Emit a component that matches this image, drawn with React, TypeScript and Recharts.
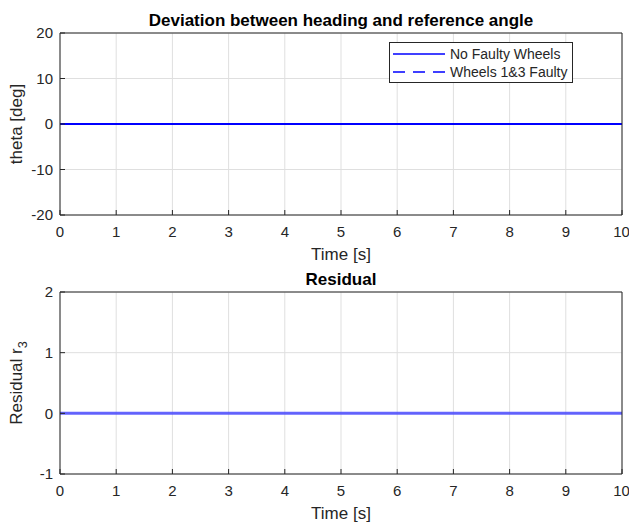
import React from 'react';
import { LineChart, Line, XAxis, YAxis, CartesianGrid, Legend } from 'recharts';

// Simulation samples (time in seconds)
const time = [0, 1, 2, 3, 4, 5, 6, 7, 8, 9, 10];
const thetaNoFault = [0, 0, 0, 0, 0, 0, 0, 0, 0, 0, 0];
const thetaWheels13Faulty = [0, 0, 0, 0, 0, 0, 0, 0, 0, 0, 0];
const residualR3 = [0, 0, 0, 0, 0, 0, 0, 0, 0, 0, 0];

// Axis ticks
const timeTicks = [0, 1, 2, 3, 4, 5, 6, 7, 8, 9, 10];
const thetaTicks = [-20, -10, 0, 10, 20];
const residualTicks = [-1, 0, 1, 2];

const seriesNames = ['No Faulty Wheels', 'Wheels 1&3 Faulty'];

const headingData = time.map((t, i) => ({
  t,
  noFault: thetaNoFault[i],
  faulty13: thetaWheels13Faulty[i],
}));
const residualData = time.map((t, i) => ({ t, r3: residualR3[i] }));

const FONT = '"Liberation Sans", Arial, Helvetica, sans-serif';
const INK = '#262626';
const GRID = '#dfdfdf';
const BLUE = '#0000ff';
const WIDTH = 629;
const TICK_FONT = 15;
const LABEL_FONT = 17;
const LEGEND_FONT = 14;

const tickStyle = { fill: INK, fontSize: TICK_FONT, fontFamily: FONT };
const lineStyle = { stroke: INK, strokeWidth: 1 };

const titleLabel = (text: string) => (props: any) => {
  const vb = props.viewBox || {};
  return (
    <text
      x={vb.x + vb.width / 2}
      y={vb.y + vb.height - 7}
      textAnchor="middle"
      fill="#000"
      fontSize={LABEL_FONT}
      fontWeight="bold"
      fontFamily={FONT}
    >
      {text}
    </text>
  );
};

const xLabel = (text: string) => (props: any) => {
  const vb = props.viewBox || {};
  return (
    <text
      x={vb.x + vb.width / 2}
      y={vb.y + 45}
      textAnchor="middle"
      fill={INK}
      fontSize={LABEL_FONT}
      fontFamily={FONT}
    >
      {text}
    </text>
  );
};

const yLabel = (text: string, sub?: string) => (props: any) => {
  const vb = props.viewBox || {};
  const cx = vb.x + 22;
  const cy = vb.y + vb.height / 2;
  return (
    <text
      x={cx}
      y={cy}
      transform={`rotate(-90 ${cx} ${cy})`}
      textAnchor="middle"
      fill={INK}
      fontSize={LABEL_FONT}
      fontFamily={FONT}
    >
      {text}
      {sub ? (
        <tspan dy={5} fontSize={LABEL_FONT * 0.75}>
          {sub}
        </tspan>
      ) : null}
    </text>
  );
};

// Box around the plot area with inward-pointing tick marks on all four sides
const frameAxes = (yDomain: number[], yTicks: number[], title: string, yTitle: any, xHeight: number) => [
  <XAxis
    key="xb"
    dataKey="t"
    type="number"
    domain={[0, 10]}
    ticks={timeTicks}
    allowDataOverflow
    height={xHeight}
    tickSize={-5}
    tickMargin={16}
    tick={tickStyle}
    axisLine={lineStyle}
    tickLine={lineStyle}
    label={{ content: xLabel('Time [s]') }}
  />,
  <XAxis
    key="xt"
    xAxisId="top"
    orientation="top"
    type="number"
    domain={[0, 10]}
    ticks={timeTicks}
    allowDataOverflow
    height={1}
    tickSize={-5}
    tick={false}
    axisLine={lineStyle}
    tickLine={lineStyle}
    label={{ content: titleLabel(title) }}
  />,
  <YAxis
    key="yl"
    type="number"
    domain={yDomain}
    ticks={yTicks}
    allowDataOverflow
    width={60}
    tickSize={-5}
    tickMargin={12}
    tick={tickStyle}
    axisLine={lineStyle}
    tickLine={lineStyle}
    label={{ content: yTitle }}
  />,
  <YAxis
    key="yr"
    yAxisId="right"
    orientation="right"
    type="number"
    domain={yDomain}
    ticks={yTicks}
    allowDataOverflow
    width={1}
    tickSize={-5}
    tick={false}
    axisLine={lineStyle}
    tickLine={lineStyle}
  />,
];

const LegendBox = (props: any) => {
  const payload = [...(props.payload || [])].sort(
    (a: any, b: any) => seriesNames.indexOf(a.value) - seriesNames.indexOf(b.value)
  );
  return (
    <div
      style={{
        boxSizing: 'border-box',
        width: 184,
        height: 41,
        border: `1px solid ${INK}`,
        background: '#fff',
        position: 'relative',
        fontFamily: FONT,
        fontSize: LEGEND_FONT,
        color: INK,
      }}
    >
      {payload.map((entry: any, i: number) => (
        <div
          key={entry.value}
          style={{
            position: 'absolute',
            left: 0,
            top: 2 + i * 18,
            height: 18,
            display: 'flex',
            alignItems: 'center',
            whiteSpace: 'nowrap',
          }}
        >
          <svg width={60} height={18} style={{ display: 'block' }}>
            <line
              x1={3}
              x2={55}
              y1={9}
              y2={9}
              stroke={entry.color}
              strokeWidth={1.5}
              strokeDasharray={entry.payload?.strokeDasharray}
            />
          </svg>
          <span style={{ lineHeight: '18px' }}>{entry.value}</span>
        </div>
      ))}
    </div>
  );
};

export default function App() {
  return (
    <div
      style={{
        position: 'absolute',
        left: 0,
        top: 0,
        width: WIDTH,
        height: 524,
        background: '#fff',
        overflow: 'hidden',
      }}
    >
      <div style={{ position: 'absolute', left: 0, top: 0 }}>
        <LineChart
          width={WIDTH}
          height={270}
          data={headingData}
          margin={{ top: 32, right: 6, bottom: 0, left: 0 }}
        >
          <CartesianGrid stroke={GRID} strokeWidth={1} />
          {frameAxes([-20, 20], thetaTicks, 'Deviation between heading and reference angle', yLabel('theta [deg]'), 55)}
          {/* the faulty-wheel run sits underneath the nominal run */}
          <Line
            dataKey="faulty13"
            name={seriesNames[1]}
            stroke={BLUE}
            strokeWidth={2}
            strokeDasharray="12 8"
            dot={false}
            isAnimationActive={false}
          />
          <Line
            dataKey="noFault"
            name={seriesNames[0]}
            stroke={BLUE}
            strokeWidth={2}
            dot={false}
            isAnimationActive={false}
          />
          <Legend
            layout="vertical"
            align="center"
            verticalAlign="middle"
            content={<LegendBox />}
            wrapperStyle={{ left: 389, top: 42, width: 184, height: 41 }}
          />
        </LineChart>
      </div>
      <div style={{ position: 'absolute', left: 0, top: 259 }}>
        <LineChart
          width={WIDTH}
          height={265}
          data={residualData}
          margin={{ top: 32, right: 6, bottom: 0, left: 0 }}
        >
          <CartesianGrid stroke={GRID} strokeWidth={1} />
          {frameAxes([-1, 2], residualTicks, 'Residual', yLabel('Residual r', '3'), 50)}
          <Line
            dataKey="r3"
            name="Residual r3"
            stroke="#4040ff"
            strokeOpacity={0.8}
            strokeWidth={3}
            dot={false}
            isAnimationActive={false}
          />
        </LineChart>
      </div>
    </div>
  );
}
